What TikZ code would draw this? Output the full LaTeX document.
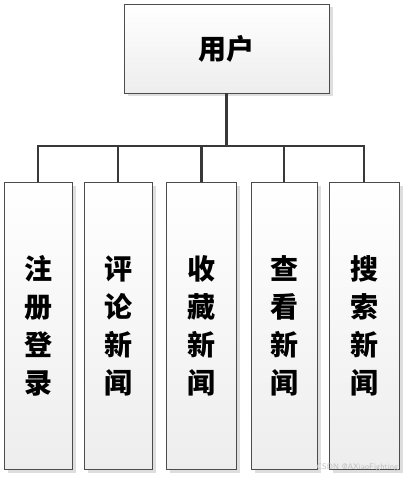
\documentclass[tikz,border=0pt]{standalone}
\usepackage{fontspec}
\usepackage{tikz}
\usepackage{xcolor}
\usetikzlibrary{shadows}
\newfontfamily\cjk{Noto Sans CJK SC}

\begin{document}
\begin{tikzpicture}[x=1pt, y=-1pt,
                box/.style={draw=black!70, line width=0.8pt, top color=white, bottom color=black!7,
                    drop shadow={shadow xshift=3.5pt, shadow yshift=-3.5pt, fill=black!13, opacity=1},
                    inner sep=0pt, align=center, font=\cjk\bfseries\fontsize{28}{38}\selectfont},
                link/.style={draw=black!78, line width=2.6pt}]
                \useasboundingbox (0, 0) rectangle (406, 478);

                \node[box, minimum width=205pt, minimum height=89pt] (user) at (226.5, 48.5) {用户};

                \node[box, minimum width=68pt, minimum height=287pt] (reg) at (38, 325.5) {注\\册\\登\\录};
                \node[box, minimum width=68pt, minimum height=287pt] (cmt) at (118, 325.5) {评\\论\\新\\闻};
                \node[box, minimum width=70pt, minimum height=287pt] (fav) at (201.5, 325.5) {收\\藏\\新\\闻};
                \node[box, minimum width=66pt, minimum height=287pt] (view) at (284, 325.5) {查\\看\\新\\闻};
                \node[box, minimum width=70pt, minimum height=287pt] (find) at (364, 325.5) {搜\\索\\新\\闻};

                \coordinate (hub) at (226.5, 146);

                \draw[link]
                (user.south) -- (hub)
                (hub) -| (reg.north)
                (hub) -| (cmt.north)
                (hub) -| (fav.north)
                (hub) -| (view.north)
                (hub) -| (find.north);

                \node[text=black!25, font=\sffamily\fontsize{8}{8}\selectfont, anchor=east] (mark) at (402, 467) {CSDN @AXiaoFighting};
            \end{tikzpicture}
\end{document}
